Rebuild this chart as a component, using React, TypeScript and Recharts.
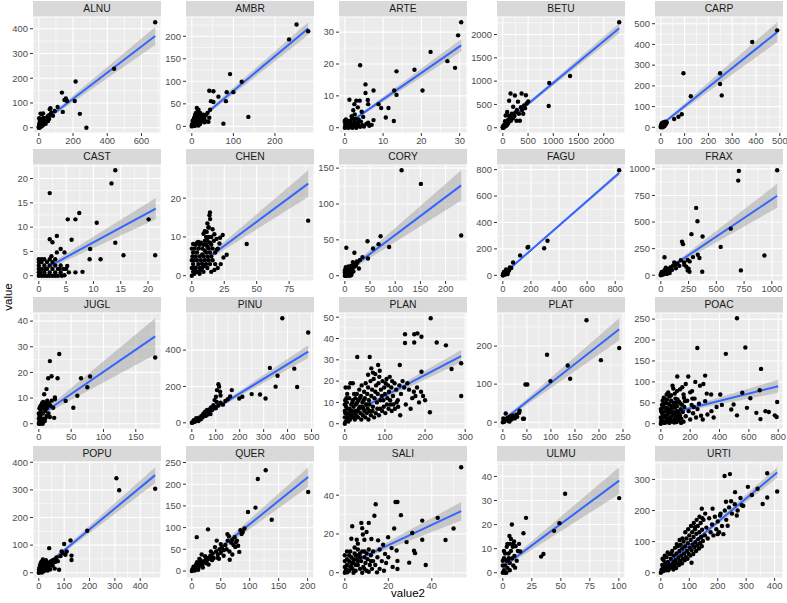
import React from 'react';
import { ComposedChart, Scatter, Line, Area, XAxis, YAxis, CartesianGrid } from 'recharts';

type P = [number, number];
type B = [number, number, number]; // x, lower, upper of the lm band

const ALNU: P[] = [[680,426],[440,238],[215,187],[135,142],[158,118],[150,112],[165,108],[210,108],[110,84],[140,64],[240,56],[278,0],[68,79],[64,75],[73,61],[54,48],[83,48],[93,68],[10,57],[25,58],[18,55],[44,41],[35,30],[25,25],[15,20],[6,27],[2,38],[10,14],[21,11],[40,16],[54,27],[60,35],[48,33],[30,18],[20,8],[12,5],[5,3],[2,1],[0,0],[1,6],[3,12],[7,9],[8,20],[14,30],[16,36],[28,40],[32,28],[36,22],[45,30],[50,40],[58,45],[62,52],[70,55],[4,18],[6,4],[9,2],[13,8],[17,15],[22,18],[26,12],[34,20],[38,26],[0,3],[1,1],[3,5],[5,8]];
const AMBR: P[] = [[252,226],[234,193],[280,211],[92,116],[120,99],[136,21],[100,76],[84,76],[64,66],[46,56],[52,54],[42,79],[52,78],[44,37],[42,19],[36,11],[76,6],[82,56],[12,41],[16,37],[20,30],[8,26],[4,15],[20,19],[28,26],[30,9],[12,7],[2,4],[0,0],[1,2],[3,1],[5,6],[6,10],[8,4],[10,12],[12,18],[14,24],[15,8],[18,14],[22,16],[24,22],[26,20],[10,30],[14,33],[18,28],[6,20],[4,9],[2,12],[9,17],[16,2],[20,5],[25,12],[30,18],[34,25],[38,30],[40,10],[7,1],[11,3],[0,2],[1,5],[3,3]];
const ARTE: P[] = [[30.4,33.1],[29.6,29],[26.8,20.9],[28.8,18.8],[22.4,23.8],[20.3,11.7],[18.2,18.2],[13.5,17.7],[13.5,10.3],[12.9,11.7],[12.8,2.1],[10.7,3.2],[11.4,6.2],[4,19.6],[5.4,13.6],[5.4,10.9],[7.5,11.7],[7.5,2.4],[6.1,1.6],[6,8.7],[6.1,7.4],[8.8,7.4],[9.5,6.2],[1.2,8.8],[3,8.5],[3.9,8.5],[2.5,7.4],[3.4,6.4],[2.2,5.5],[1.8,3.6],[2.6,4.2],[4.4,5],[4.8,3.4],[3.6,2.6],[2.8,2.8],[1.5,2.2],[1,1.5],[0.5,1],[0,0],[0.2,0.4],[0.4,2],[0.8,0.3],[1.2,0.8],[1.6,0.2],[2,1.2],[2.4,0.5],[2.8,0.2],[3.2,1],[3.6,0.6],[4,0.3],[4.6,0.8],[5,0.4],[5.6,1.2],[6.4,0.6],[7,0.9],[0,1.8],[0.3,2.6],[0.6,1.4],[1,0],[1.4,0.5],[2,0],[2.6,1.8],[3,0],[3.4,1.5],[4.2,1.9],[0.1,0.9],[0.9,2.1],[1.9,2.8],[0,2.2],[0.5,0.1]];
const BETU: P[] = [[2306,2263],[1332,1110],[920,960],[909,465],[153,735],[239,690],[372,735],[457,697],[404,301],[338,150],[503,562],[471,520],[420,480],[360,440],[300,560],[280,380],[205,450],[125,578],[86,337],[272,150],[56,262],[180,300],[150,220],[120,260],[100,160],[80,120],[60,90],[45,140],[30,60],[20,30],[10,15],[5,5],[0,0],[2,20],[15,50],[25,8],[40,25],[70,40],[90,70],[110,100],[130,190],[160,150],[200,200],[230,250],[250,330],[320,300],[380,380],[440,420],[0,10],[8,2]];
const CARP: P[] = [[489,468],[384,412],[95,261],[249,261],[249,209],[256,154],[126,150],[88,63],[74,51],[56,40],[20,27],[15,22],[12,18],[8,14],[10,8],[5,6],[3,2],[0,0],[1,4],[6,10],[14,12],[18,20],[22,16],[25,24],[4,20],[2,12],[9,3],[16,6],[0,8],[7,0],[11,25],[13,5]];
const CAST: P[] = [[14,21.7],[13.3,19],[2,17],[7.4,12.9],[5.3,11.6],[6.7,11.6],[10.6,10.9],[20.1,11.6],[3.3,8.2],[2,7.5],[2.5,6.9],[6,7.4],[14,6.8],[9.4,5.5],[4,5.5],[4.7,4.8],[3.3,4.8],[9.3,3.4],[11.3,3.4],[15.5,4.2],[21.3,4.2],[8,0.8],[6.7,0.7],[4.7,0.1],[0,0],[0,0.7],[0,1.4],[0,2.1],[0,2.8],[0,3.4],[0.5,0],[0.5,1.4],[0.5,2.8],[0.5,3.4],[1,0],[1,0.7],[1,2.1],[1,3.4],[1.5,0],[1.5,1.4],[1.5,2.8],[2,0],[2,0.7],[2,2.1],[2,3.4],[2.5,0],[2.5,1.4],[2.5,2.8],[3,0],[3,0.7],[3,2.1],[3,3.4],[3.5,1.4],[3.5,0],[4,0.7],[4,2.1],[2.3,4],[4.5,1.4],[5,1.4],[5.5,0.7],[3.8,1.4],[1.2,1.4],[0.3,0.7],[4.2,0],[5.2,2]];
const CHEN: P[] = [[89.7,14.2],[42.3,8.2],[14,16.3],[13.6,15.6],[14.1,14.6],[12.8,12.4],[11.5,11.3],[9,10.8],[17.4,10.7],[23.8,10.5],[21.8,9.8],[21.3,8.3],[26.9,5.4],[24.4,4.7],[22.3,3],[17.4,1.5],[19.2,6.7],[0,0],[1,1],[2,0.5],[3,2],[4,1],[5,3],[6,2],[7,4],[8,3],[9,5],[10,4],[11,6],[12,5],[13,7],[14,6],[1,3],[2,4],[3,5],[4,6],[5,7],[6,8],[7,8.5],[8,7],[9,8],[10,9],[11,8],[12,9],[13,10],[15,8],[16,7],[0,2],[0,4],[1,6],[2,7],[3,8],[4,8.5],[5,8.7],[2,2],[3,1],[5,1],[6,0.5],[7,1.5],[8,2],[9,1],[10,2.5],[11,3],[12,2],[13,4],[14,3],[15,5],[16,4],[18,6],[20,7],[17,9],[19,9.5],[1,8.2],[0,7],[0.5,5],[4,4],[6,5],[8,5.5],[10,6.5],[12,7.5],[14,8.5],[15,10],[16,12],[13,12.5],[12,13.5],[11,10],[10,11.5],[18,3],[20,2],[15,1]];
const CORY: P[] = [[112.7,147],[151,128],[231,56],[88,40],[71,55],[67,44],[56,38],[45,48],[46,24],[19,32],[3,39],[24,20],[16,19],[13,14],[28,10],[13,1],[0,0],[1,2],[2,5],[3,8],[4,11],[5,3],[6,6],[7,9],[8,2],[9,4],[10,7],[11,12],[12,5],[1,9],[2,12],[0,4],[0,7],[3,1],[5,0],[7,13],[9,10],[15,8],[18,12],[20,16],[22,14],[25,18],[30,22],[35,26],[10,0],[4,5],[6,1],[2,0],[14,4],[17,6]];
const FAGU: P[] = [[828,795],[318,262],[294,205],[181,215],[176,211],[123,151],[73,97],[23,44],[40,30],[50,60],[60,55],[30,20],[20,15],[10,8],[5,3],[0,0],[2,10],[8,25],[15,5],[25,35],[35,10],[45,40],[12,18],[18,28],[1,1],[3,6],[6,12]];
const FRAX: P[] = [[1048,987],[703,981],[697,890],[318,633],[330,507],[276,386],[376,364],[630,438],[539,266],[933,185],[721,45],[373,32],[191,315],[200,292],[333,192],[348,162],[33,169],[242,143],[242,45],[258,32],[212,97],[167,88],[136,65],[121,120],[76,39],[45,71],[250,60],[230,80],[150,110],[100,50],[60,30],[40,20],[20,10],[10,5],[0,0],[5,15],[15,25],[25,8],[30,40],[50,55],[70,60],[90,75],[110,90],[130,100],[180,140],[210,120],[260,130],[290,170],[80,20],[55,12],[35,50],[8,30],[0,10]];
const JUGL: P[] = [[180,25.8],[31.6,27.2],[17.1,24.4],[19.7,18.5],[14.5,17.7],[29,17.7],[65.3,17.7],[79.3,18.4],[75,14.2],[59.6,10.9],[53.4,6.2],[24.9,10.2],[24.9,9.5],[41.5,8.9],[11.9,13.5],[8.3,11.5],[6.7,8.5],[22.3,6.2],[17.1,2.6],[23.8,2.3],[0,0],[1,1],[2,3],[3,5],[4,7],[5,6],[6,4],[7,2],[8,6],[9,7],[10,5],[11,8],[12,6],[13,9],[14,7],[1,6],[2,6.5],[0,2],[0,4],[3,0.5],[4,2],[5,1],[6,0],[2,0],[1,3],[10,2],[15,4],[16,8],[18,7],[20,9],[12,3],[9,1],[7,7],[5,8],[3,7]];
const PINU: P[] = [[378,575],[486,497],[326,302],[358,259],[428,298],[350,199],[440,197],[285,156],[308,134],[250,158],[198,134],[211,143],[167,180],[111,212],[114,199],[118,171],[101,143],[104,115],[90,97],[62,69],[48,50],[0,0],[5,3],[10,8],[15,12],[20,18],[25,20],[30,28],[35,25],[40,38],[45,30],[50,42],[55,60],[60,50],[65,45],[70,72],[75,62],[80,85],[85,70],[95,88],[100,80],[110,95],[120,110],[130,100],[140,120],[150,130],[160,145],[120,150],[105,180],[95,125],[8,15],[12,5],[18,25],[28,10],[38,20],[2,2],[58,38],[68,55],[78,48]];
const PLAN: P[] = [[214,49.5],[173,42],[181,42.4],[191,40.8],[229,38.1],[252,36.8],[173,38.1],[150,37.9],[150,42],[266,25.7],[290,28.4],[290,13],[212,5.4],[191,24.4],[137,27.6],[62,31.3],[31,31.3],[83,27.6],[87,24.9],[76,23.3],[0,0],[2,1],[4,3],[6,2],[8,5],[10,4],[12,7],[14,3],[16,9],[18,6],[20,11],[22,8],[24,5],[26,12],[28,9],[30,14],[32,6],[34,11],[36,16],[38,8],[40,13],[42,18],[44,10],[46,7],[48,15],[50,12],[52,19],[54,9],[56,14],[58,17],[60,11],[62,6],[64,20],[66,13],[68,16],[70,8],[72,21],[74,12],[76,15],[78,18],[80,10],[82,14],[84,19],[86,22],[88,7],[90,16],[92,13],[94,20],[96,11],[98,17],[100,14],[102,19],[104,21],[106,12],[108,18],[110,15],[112,22],[114,9],[116,17],[118,20],[120,13],[124,19],[128,16],[132,11],[136,18],[140,14],[144,20],[148,17],[152,9],[156,19],[160,16],[164,7],[168,12],[172,15],[176,13],[180,17],[185,10],[190,15],[195,13],[200,11],[1,5],[3,8],[5,10],[7,7],[9,1],[11,12],[13,2],[15,6],[17,4],[19,10],[21,3],[23,14],[25,2],[27,6],[29,4],[31,10],[33,3],[35,7],[37,12],[39,5],[41,2],[43,8],[45,4],[47,11],[49,6],[51,3],[53,9],[55,5],[57,7],[59,2],[61,9],[65,4],[69,6],[73,3],[77,5],[81,7],[85,4],[89,11],[93,6],[97,8],[101,5],[105,9],[109,7],[113,11],[117,6],[121,9],[125,7],[129,10],[133,8],[138,4],[0,3],[0,6],[0,9],[1,11],[2,17],[4,12],[6,14],[10,17],[14,19],[20,19],[58,23],[66,26],[70,24]];
const PLAT: P[] = [[174,268],[92,177],[135,149],[204,163],[242,195],[99,108],[140,114],[51,99],[34,25],[42,9],[47,99],[6,23],[23,11],[44,9],[0,0],[2,3],[4,8],[8,5],[10,12],[12,3],[15,15],[18,7],[20,18],[25,10],[28,20],[30,14],[1,10],[3,1],[14,2],[35,30]];
const POAC: P[] = [[519,252],[576,182],[443,167],[249,181],[683,131],[610,61],[674,80],[555,74],[793,52],[713,30],[736,28],[777,20],[789,16],[679,11],[651,26],[587,38],[519,20],[496,46],[480,34],[416,45],[405,70],[318,22],[274,19],[286,10],[302,54],[313,72],[343,70],[302,115],[290,95],[267,91],[235,100],[213,78],[187,113],[146,87],[130,82],[112,113],[158,62],[165,54],[80,91],[85,84],[0,0],[5,10],[10,25],[15,5],[20,40],[25,15],[30,30],[35,50],[40,8],[45,22],[50,35],[55,12],[60,45],[65,28],[70,55],[75,18],[80,38],[85,6],[90,50],[95,25],[100,60],[105,15],[110,42],[115,30],[120,8],[125,52],[130,20],[135,35],[140,12],[145,45],[150,28],[155,5],[160,40],[170,18],[180,55],[190,30],[200,10],[210,45],[220,25],[230,60],[240,15],[250,35],[260,48],[3,30],[8,45],[12,55],[18,20],[22,2],[28,48],[33,3],[38,38],[42,58],[48,12],[52,25],[58,2],[62,32],[68,10],[72,40],[78,28],[88,20],[92,3],[98,38],[102,28],[108,4],[118,20],[128,12],[138,2],[0,15],[0,35],[2,5],[6,28],[14,38],[24,60],[32,18],[44,30],[54,48],[64,15],[74,5],[84,45],[94,10],[104,50],[114,58],[124,25],[134,48],[50,75],[60,65],[40,70],[20,62],[70,68],[95,72],[110,78],[155,70],[170,95],[200,75],[215,60],[225,40],[345,30],[360,15],[380,40]];
const POPU: P[] = [[459,304],[306,342],[317,299],[191,152],[125,117],[100,104],[110,77],[90,77],[129,62],[129,46],[80,11],[63,15],[41,89],[50,42],[30,36],[24,17],[0,0],[2,5],[5,10],[8,15],[10,20],[12,8],[15,25],[18,30],[20,12],[22,40],[25,18],[28,45],[30,22],[32,28],[35,35],[38,20],[40,30],[45,40],[55,45],[60,38],[65,50],[70,55],[75,42],[85,60],[95,70],[105,65],[3,20],[6,30],[9,38],[14,42],[16,48],[4,2],[12,1],[20,5],[35,8],[45,12],[55,25],[1,12],[7,28],[26,32],[48,28],[66,40]];
const QUER: P[] = [[127.6,232],[114,212],[201,182],[138,118],[110,146],[97,136],[91,98],[84,94],[61.5,85],[64,80],[65.5,26],[82,44],[78,70],[80,58],[40,55],[43,70],[28,96],[8.5,78],[17,38],[0,0],[2,2],[4,5],[6,8],[8,4],[10,12],[12,9],[14,15],[16,18],[18,14],[20,22],[22,20],[24,26],[26,24],[28,30],[30,28],[32,35],[34,32],[36,40],[38,30],[42,45],[45,38],[48,50],[50,42],[52,55],[55,48],[58,60],[60,50],[62,70],[68,65],[70,72],[72,60],[74,78],[76,66],[86,85],[88,90],[3,10],[5,1],[9,20],[11,3],[15,25],[19,8],[25,18],[29,15],[35,25],[45,30],[50,62],[55,35],[65,45],[70,38],[75,55],[1,4],[7,14],[13,28],[23,34],[33,45],[47,28]];
const SALI: P[] = [[53.5,54.4],[50,22.8],[46.3,16.9],[42.7,28.3],[35.6,26.9],[35.6,17],[37.2,4],[31,20.5],[31.8,11.3],[32.3,10.1],[29.6,5.2],[28.4,15.8],[25.8,29.7],[23.3,36.5],[24.2,36.5],[22.7,22.8],[23.8,11.5],[24.2,6.1],[24.2,1.9],[14.2,35.3],[13.6,29.4],[11,25.7],[7.6,25.7],[3.4,24],[8.3,19.7],[12.2,17.4],[15.3,16.7],[17.6,14.4],[18.5,9.7],[21.5,12.7],[19.9,18.3],[14.8,0.2],[0,0],[0.5,2],[1,4],[1.5,1],[2,6],[2.5,3],[3,8],[3.5,2],[4,5],[4.5,10],[5,1],[5.5,7],[6,4],[6.5,9],[7,2],[7.5,6],[8,11],[8.5,3],[9,8],[9.5,5],[10,1],[10.5,7],[11,12],[11.5,4],[12,9],[12.5,2],[13,6],[0,3],[0,6],[0,9],[1,11],[2,1],[3,3],[4,0],[5,4],[6,12],[7,8],[8,0],[9,2],[10,10],[11,0.5],[12,6],[13,11],[14,4],[15,8],[16,2],[17,6],[18,1],[2,9],[4,7],[6,6],[3,5],[1,7],[5,9],[7,10],[9,11],[2.5,11],[4.5,13],[6,15],[5.5,17],[9,17],[10,21],[8,23],[3,17.5],[20,8],[22,3],[0.2,0.5],[1.2,0.2],[16,12],[19,5]];
const ULMU: P[] = [[100.3,31],[53.7,32.8],[20,22.8],[44.2,17.4],[48.8,20.6],[33,6.7],[35,7.8],[15,8.8],[7.8,20],[17.8,16.4],[9.7,13],[5.7,15.3],[3.4,10.8],[8.6,10.8],[4.8,5.3],[10.6,2.1],[0,0],[1,1],[2,3],[3,5],[4,2],[5,8],[6,4],[7,9],[8,6],[9,3],[10,7],[11,11],[12,5],[1,6],[2,8],[0,3],[0,5],[3,0],[6,1],[9,12],[4,12],[7,14],[13,9],[14,12],[2,0],[1,9],[5,6],[6,12]];
const URTI: P[] = [[409,261],[374,320],[374,242],[358,221],[306,276],[285,217],[261,259],[267,184],[247,230],[243,317],[224,311],[229,228],[235,151],[220,124],[200,124],[208,184],[182,206],[144,206],[120,146],[108,32],[0,0],[3,10],[5,25],[8,5],[10,40],[12,15],[15,30],[18,8],[20,50],[22,20],[25,35],[28,12],[30,60],[32,25],[35,45],[38,18],[40,70],[42,30],[45,55],[48,22],[50,80],[52,40],[55,62],[58,30],[60,85],[62,48],[65,70],[68,38],[70,90],[72,55],[75,78],[78,45],[80,100],[82,62],[85,85],[88,50],[90,110],[92,70],[95,95],[98,60],[100,120],[102,80],[105,105],[108,72],[110,130],[112,90],[115,115],[118,82],[120,140],[122,98],[125,125],[128,88],[130,150],[132,108],[135,130],[138,95],[140,160],[142,115],[145,138],[148,102],[150,170],[155,120],[160,145],[165,110],[170,175],[175,130],[180,155],[185,120],[190,180],[195,140],[200,165],[205,130],[210,190],[215,150],[225,200],[230,170],[240,210],[250,190],[260,220],[270,200],[280,240],[290,215],[320,250],[340,270],[6,45],[14,55],[24,65],[34,20],[44,10],[54,15],[64,25],[74,30],[84,40],[94,45],[104,55],[114,60],[124,70],[134,78],[144,85],[2,3],[7,15],[16,20],[26,8],[36,60],[46,35],[56,92],[66,105],[76,110],[86,130],[96,140],[106,150],[116,160],[126,170],[136,180],[146,175],[156,190]];

// regression band: [x, lower, upper]
const ALNU_BAND: B[] = [[0,3,19],[40,27,37],[680,334,407]];
const AMBR_BAND: B[] = [[0,-3,7],[20,13.5,21.5],[280,203,231]];
const ARTE_BAND: B[] = [[0,0,1.3],[3,2.7,3.5],[30.4,23.9,27.8]];
const BETU_BAND: B[] = [[0,20,100],[150,175,215],[2306,2030,2240]];
const CARP_BAND: B[] = [[0,-2,22],[30,30,46],[489,412,507]];
const CAST_BAND: B[] = [[0,0.1,1.5],[2.5,1.8,2.8],[21.4,11.6,16.0]];
const CHEN_BAND: B[] = [[0,0.9,2.1],[8,3.1,3.9],[89.7,20.3,27.2]];
const CORY_BAND: B[] = [[0,1,7],[10,7,11.5],[231,105,147]];
const FAGU_BAND: B[] = [[0,-3,12],[40,36,48],[828,757,790]];
const FRAX_BAND: B[] = [[0,-5,31],[100,71,95],[1048,635,860]];
const JUGL_BAND: B[] = [[0,1.7,4.1],[10,3.8,5.5],[180,27,41.1]];
const PINU_BAND: B[] = [[0,-5,5],[60,43,53],[486,357,427]];
const PLAN_BAND: B[] = [[0,1.9,4.5],[70,9.2,11.0],[290,28.8,34.6]];
const PLAT_BAND: B[] = [[0,-4,12],[30,28,40],[242,215,273]];
const POAC_BAND: B[] = [[0,15,25],[150,29,37],[800,74,105]];
const POPU_BAND: B[] = [[0,0,10],[30,24,32],[459,325,382]];
const QUER_BAND: B[] = [[0,-4,6],[35,34,42],[201,194,239]];
const SALI_BAND: B[] = [[0,2.5,4.9],[8,7,8.8],[53.5,27,36.5]];
const ULMU_BAND: B[] = [[0,1.3,3.5],[5,3.4,5],[100.3,32.7,43.8]];
const URTI_BAND: B[] = [[0,6,16],[70,61,67],[409,305,339]];

const panels = [
  { name: 'ALNU', pts: ALNU, band: ALNU_BAND, xt: [0,200,400,600], yt: [0,100,200,300,400] },
  { name: 'AMBR', pts: AMBR, band: AMBR_BAND, xt: [0,100,200], yt: [0,50,100,150,200] },
  { name: 'ARTE', pts: ARTE, band: ARTE_BAND, xt: [0,10,20,30], yt: [0,10,20,30] },
  { name: 'BETU', pts: BETU, band: BETU_BAND, xt: [0,500,1000,1500,2000], yt: [0,500,1000,1500,2000] },
  { name: 'CARP', pts: CARP, band: CARP_BAND, xt: [0,100,200,300,400,500], yt: [0,100,200,300,400,500] },
  { name: 'CAST', pts: CAST, band: CAST_BAND, xt: [0,5,10,15,20], yt: [0,5,10,15,20] },
  { name: 'CHEN', pts: CHEN, band: CHEN_BAND, xt: [0,25,50,75], yt: [0,10,20] },
  { name: 'CORY', pts: CORY, band: CORY_BAND, xt: [0,50,100,150,200], yt: [0,50,100,150] },
  { name: 'FAGU', pts: FAGU, band: FAGU_BAND, xt: [0,200,400,600,800], yt: [0,200,400,600,800] },
  { name: 'FRAX', pts: FRAX, band: FRAX_BAND, xt: [0,250,500,750,1000], yt: [0,250,500,750,1000] },
  { name: 'JUGL', pts: JUGL, band: JUGL_BAND, xt: [0,50,100,150], yt: [0,10,20,30,40] },
  { name: 'PINU', pts: PINU, band: PINU_BAND, xt: [0,100,200,300,400,500], yt: [0,200,400] },
  { name: 'PLAN', pts: PLAN, band: PLAN_BAND, xt: [0,100,200,300], yt: [0,10,20,30,40,50] },
  { name: 'PLAT', pts: PLAT, band: PLAT_BAND, xt: [0,50,100,150,200,250], yt: [0,100,200] },
  { name: 'POAC', pts: POAC, band: POAC_BAND, xt: [0,200,400,600,800], yt: [0,50,100,150,200,250] },
  { name: 'POPU', pts: POPU, band: POPU_BAND, xt: [0,100,200,300,400], yt: [0,100,200,300,400] },
  { name: 'QUER', pts: QUER, band: QUER_BAND, xt: [0,50,100,150,200], yt: [0,50,100,150,200,250] },
  { name: 'SALI', pts: SALI, band: SALI_BAND, xt: [0,20,40], yt: [0,20,40] },
  { name: 'ULMU', pts: ULMU, band: ULMU_BAND, xt: [0,25,50,75,100], yt: [0,10,20,30,40] },
  { name: 'URTI', pts: URTI, band: URTI_BAND, xt: [0,100,200,300,400], yt: [0,100,200,300] },
];

const FONT = '"Liberation Sans", Arial, sans-serif';
const COL_X = [33, 186, 339, 497, 655];
const ROW_Y = [1, 149, 297, 446];
const PW = 128;
const PH = 116;
const SH = 16;
const YW = 30;
const XH = 14;
const MT = 6; // room so tick labels at the panel top are not clipped
const MR = 14; // room for the last x tick label

const expand = (lo: number, hi: number): [number, number] => {
  const r = hi - lo;
  return [lo - r * 0.05, hi + r * 0.05];
};

const minorOf = (ticks: number[], dom: [number, number]) => {
  const step = ticks[1] - ticks[0];
  const out: number[] = [];
  for (let v = ticks[0] - step / 2; v <= dom[1]; v += step) if (v >= dom[0]) out.push(v);
  return out;
};

const scaled = (axis: any, vals: number[]) => {
  try {
    const s = axis && axis.scale;
    if (!s) return [];
    return vals.map((v) => (typeof s === 'function' ? s(v) : s.map(v)));
  } catch (e) {
    return [];
  }
};

const dot = (props: any) => <circle cx={props.cx} cy={props.cy} r={2.2} fill="#000" />;

function Panel({ p, i }: { p: any; i: number }) {
  const left = COL_X[i % 5];
  const top = ROW_Y[Math.floor(i / 5)];
  const xs = p.pts.map((d: P) => d[0]);
  const ys = [...p.pts.map((d: P) => d[1]), ...p.band.map((b: B) => b[1]), ...p.band.map((b: B) => b[2])];
  const xd = expand(Math.min(...xs), Math.max(...xs));
  const yd = expand(Math.min(...ys), Math.max(...ys));
  const scatter = p.pts.map(([x, y]: P) => ({ x, y }));
  const fit = p.band.map(([x, lo, hi]: B) => ({ x, fit: (lo + hi) / 2, band: [lo, hi] }));
  const mx = minorOf(p.xt, xd);
  const my = minorOf(p.yt, yd);
  const tick = { fontSize: 9.4, fill: '#4D4D4D', fontFamily: FONT };
  return (
    <>
      <div
        style={{
          position: 'absolute', left, top, width: PW, height: SH, background: '#D9D9D9',
          color: '#1A1A1A', fontSize: 10.3, lineHeight: SH + 'px', textAlign: 'center', fontFamily: FONT,
        }}
      >
        {p.name}
      </div>
      <div style={{ position: 'absolute', left: left - YW, top: top + SH - MT }}>
        <ComposedChart width={PW + YW + MR} height={PH + XH + MT} data={fit} margin={{ top: MT, right: MR, bottom: 0, left: 0 }}>
          <CartesianGrid
            fill="#EBEBEB"
            stroke="#FFFFFF"
            strokeWidth={0.55}
            verticalCoordinatesGenerator={({ xAxis }: any) => scaled(xAxis, mx)}
            horizontalCoordinatesGenerator={({ yAxis }: any) => scaled(yAxis, my)}
          />
          <CartesianGrid stroke="#FFFFFF" strokeWidth={1.1} />
          <XAxis
            type="number" dataKey="x" domain={xd} ticks={p.xt} allowDataOverflow height={XH}
            axisLine={false} tickSize={3} tickMargin={1} tickLine={{ stroke: '#333333' }} tick={tick} interval={0}
          />
          <YAxis
            type="number" domain={yd} ticks={p.yt} allowDataOverflow width={YW}
            axisLine={false} tickSize={3} tickMargin={2} tickLine={{ stroke: '#333333' }} tick={tick} interval={0}
          />
          <Scatter data={scatter} dataKey="y" shape={dot} isAnimationActive={false} />
          <Area dataKey="band" type="linear" fill="#999999" fillOpacity={0.45} stroke="none" isAnimationActive={false} />
          <Line dataKey="fit" type="linear" stroke="#3366FF" strokeWidth={2} dot={false} activeDot={false} isAnimationActive={false} />
        </ComposedChart>
      </div>
    </>
  );
}

export default function App() {
  return (
    <div style={{ position: 'absolute', left: 0, top: 0, width: 787, height: 603, background: '#fff', fontFamily: FONT }}>
      {panels.map((p, i) => (
        <Panel key={p.name} p={p} i={i} />
      ))}
      <svg width={787} height={603} style={{ position: 'absolute', left: 0, top: 0, pointerEvents: 'none' }}>
        <text x={408} y={597} textAnchor="middle" fontSize={11.5} fill="#000" fontFamily={FONT}>value2</text>
        <text x={12} y={297} textAnchor="middle" fontSize={11.5} fill="#000" fontFamily={FONT} transform="rotate(-90 12 297)">value</text>
      </svg>
    </div>
  );
}
